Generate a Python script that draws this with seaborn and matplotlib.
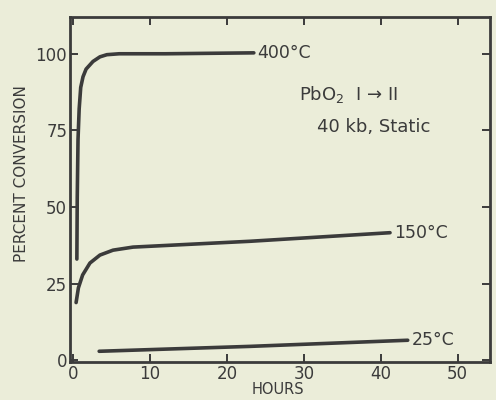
import pandas as pd
import seaborn as sns
import matplotlib.pyplot as plt

# --- data ---
hours_400 = [0.5, 0.55, 0.65, 0.8, 1.0, 1.3, 1.7, 2.6, 3.5, 4.4, 6, 12, 23.5]
pct_400 = [33, 53, 72, 82, 89, 92.5, 95, 97.5, 99, 99.7, 100, 100, 100.3]

hours_150 = [0.4, 0.7, 1.25, 2.2, 3.5, 5.2, 7.8, 23, 41.2]
pct_150 = [18.8, 23.6, 27.8, 31.7, 34.3, 35.9, 36.9, 38.8, 41.6]

hours_25 = [3.4, 23, 43.5]
pct_25 = [2.9, 4.5, 6.5]

curve_labels = ["400°C", "150°C", "25°C"]

x_ticks = [0, 10, 20, 30, 40, 50]
x_tick_labels = ["0", "10", "20", "30", "40", "50"]
y_ticks = [0, 25, 50, 75, 100]
y_tick_labels = ["0", "25", "50", "75", "100"]

df = pd.concat([
    pd.DataFrame({"hours": hours_400, "pct": pct_400, "temp": curve_labels[0]}),
    pd.DataFrame({"hours": hours_150, "pct": pct_150, "temp": curve_labels[1]}),
    pd.DataFrame({"hours": hours_25, "pct": pct_25, "temp": curve_labels[2]}),
])

# --- style ---
sns.set_theme(style="ticks")
plt.rcParams["font.family"] = ["DejaVu Sans"]
paper = "#ebedd9"
ink = "#3b3b3b"

fig = plt.figure(figsize=(4.96, 4.0), dpi=100, facecolor=paper)
ax = fig.add_axes([0.141, 0.095, 0.847, 0.8625])
ax.set_facecolor(paper)

sns.lineplot(data=df, x="hours", y="pct", units="temp", estimator=None,
             color=ink, linewidth=2.6, sort=False, ax=ax, legend=False)

# curve labels at the right end of each line
for label, hx, py in zip(curve_labels,
                         [hours_400[-1], hours_150[-1], hours_25[-1]],
                         [pct_400[-1], pct_150[-1], pct_25[-1]]):
    ax.text(hx + 0.5, py, label, fontsize=12.5, color=ink, va="center", ha="left")

ax.text(29.4, 86.7, "PbO$_2$  I → II", fontsize=13, color=ink, va="center", ha="left")
ax.text(31.7, 76, "40 kb, Static", fontsize=13, color=ink, va="center", ha="left")

ax.set_xlim(-0.4, 54.2)
ax.set_ylim(-0.6, 112)
ax.set_xticks(x_ticks)
ax.set_xticklabels(x_tick_labels)
ax.set_yticks(y_ticks)
ax.set_yticklabels(y_tick_labels)
ax.tick_params(direction="in", length=6, width=1.4, colors=ink, labelsize=12,
               top=True, right=True, pad=2)

for spine in ax.spines.values():
    spine.set_visible(True)
    spine.set_color(ink)
    spine.set_linewidth(2.0)

ax.set_xlabel("HOURS", fontsize=10.5, color=ink)
ax.set_ylabel("PERCENT CONVERSION", fontsize=11, color=ink)
ax.yaxis.set_label_coords(-0.098, 0.546)
ax.xaxis.set_label_coords(0.495, -0.058)

fig.savefig("out.png", dpi=100, facecolor=paper)
